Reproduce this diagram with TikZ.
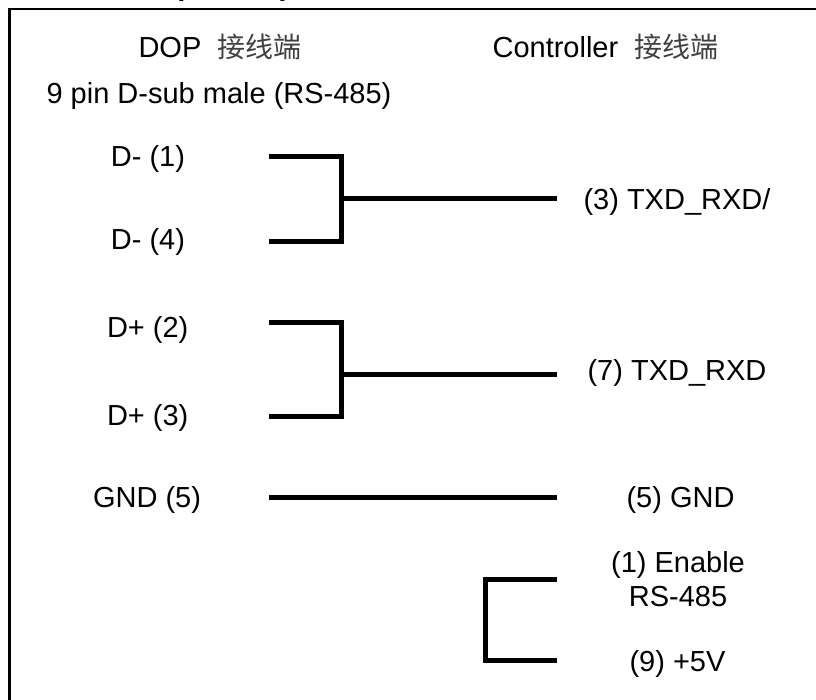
\documentclass[tikz,border=0pt]{standalone}
\usepackage{fontspec}
\setmainfont{Liberation Sans}
\newfontfamily\cjk{Noto Sans CJK SC}
\tikzset{
	pinlabel/.style={inner sep=0pt,font=\fontsize{29pt}{34pt}\selectfont,align=center},
	cutlabel/.style={inner sep=0pt,font=\bfseries\fontsize{29pt}{34pt}\selectfont},
	wire/.style={line width=5pt}
}
\newcommand{\hanzi}{{\cjk\color{black!75}\fontsize{28pt}{34pt}\selectfont 接线端}}
\begin{document}
\begin{tikzpicture}[x=1pt,y=-1pt]
	\useasboundingbox (0,0) rectangle (816,699);
	\draw[line width=2.6pt] (9.5,705) -- (9.5,9) -- (820,9);
	% cut off line over the frame
	\node[cutlabel,anchor=south] (cutleft) at (179,2) {(};
	\node[cutlabel,anchor=south] (cutright) at (285,2) {)};
	% heads
	\node[pinlabel] (doptitle) at (220,47) {DOP\ \ \hanzi};
	\node[pinlabel] (ctrltitle) at (605.5,47) {Controller\ \ \hanzi};
	\node[pinlabel] (dsub) at (219,96) {9 pin D-sub male (RS-485)};
	% left pins
	\node[pinlabel] (dm1) at (148,158.5) {D- (1)};
	\node[pinlabel] (dm4) at (148,241.5) {D- (4)};
	\node[pinlabel] (dp2) at (147.7,329.5) {D+ (2)};
	\node[pinlabel] (dp3) at (147.7,417.5) {D+ (3)};
	\node[pinlabel] (gndl) at (147,500) {GND (5)};
	% right pins
	\node[pinlabel] (txdn) at (677,201.5) {(3) TXD\_RXD/};
	\node[pinlabel] (txdp) at (677,373) {(7) TXD\_RXD};
	\node[pinlabel] (gndr) at (680.5,500) {(5) GND};
	\node[pinlabel] (enable) at (678,579) {(1) Enable\\RS-485};
	\node[pinlabel] (fivev) at (677.5,664) {(9) +5V};
	% free wire ends
	\coordinate (a1) at (269,156.5);
	\coordinate (a4) at (269,241.5);
	\coordinate (aj) at (341.5,198.5);
	\coordinate (ar) at (556.5,198.5);
	\coordinate (b2) at (269,322.5);
	\coordinate (b3) at (269,416.5);
	\coordinate (bj) at (341.5,374.5);
	\coordinate (br) at (556.5,374.5);
	\coordinate (gl) at (269,497.3);
	\coordinate (gr) at (556.5,497.3);
	\coordinate (e1) at (556.5,579.5);
	\coordinate (e9) at (556.5,660.5);
	\coordinate (ec) at (485.5,660.5);
	\draw[wire] (a1) -| (aj) |- (a4);
	\draw[wire] (aj) -- (ar);
	\draw[wire] (b2) -| (bj) |- (b3);
	\draw[wire] (bj) -- (br);
	\draw[wire] (gl) -- (gr);
	\draw[wire] (e1) -| (ec) -- (e9);
\end{tikzpicture}
\end{document}
